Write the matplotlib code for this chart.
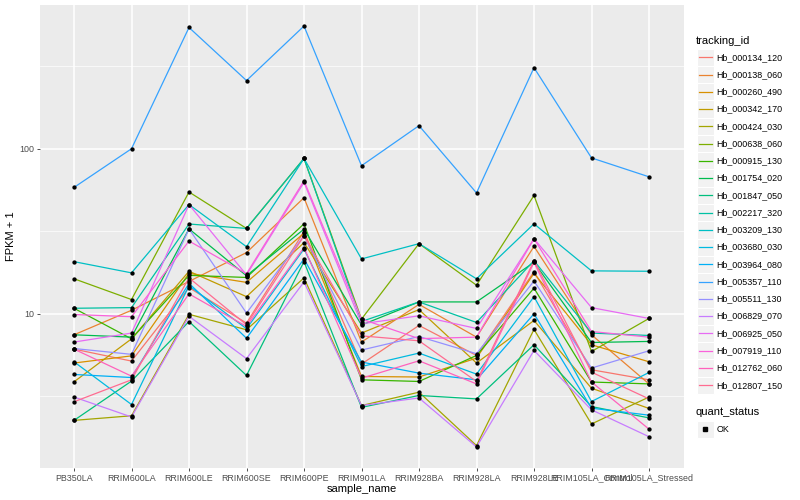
import numpy as np
import matplotlib
matplotlib.use("Agg")
import matplotlib.pyplot as plt
from matplotlib.patches import Rectangle
from matplotlib.ticker import FixedLocator, NullFormatter

plt.rcParams["font.family"] = ["Liberation Sans", "DejaVu Sans"]

SAMPLES = ["PB350LA", "RRIM600LA", "RRIM600LE", "RRIM600SE", "RRIM600PE",
           "RRIM901LA", "RRIM928BA", "RRIM928LA", "RRIM928LE",
           "RRIM105LA_Control", "RRIM105LA_Stressed"]

TRACKING_IDS = ["Hb_000134_120", "Hb_000138_060", "Hb_000260_490", "Hb_000342_170",
                "Hb_000424_030", "Hb_000638_060", "Hb_000915_130", "Hb_001754_020",
                "Hb_001847_050", "Hb_002217_320", "Hb_003209_130", "Hb_003680_030",
                "Hb_003964_080", "Hb_005357_110", "Hb_005511_130", "Hb_006829_070",
                "Hb_006925_050", "Hb_007919_110", "Hb_012762_060", "Hb_012807_150"]

# ggplot default hue palette for 20 levels
COLORS = ["#F8766D", "#EA8331", "#D89000", "#C09B00", "#A3A500", "#7CAE00",
          "#39B600", "#00BB4E", "#00BF7D", "#00C1A3", "#00BFC4", "#00BAE0",
          "#00B0F6", "#35A2FF", "#9590FF", "#C77CFF", "#E76BF3", "#FA62DB",
          "#FF62BC", "#FF6C91"]

# FPKM + 1 per sample
hb_000134_120 = [6.11, 5.17, 14.4, 8.78, 31.5, 4.96, 8.50, 5.59, 18.0, 4.58, 3.98]
hb_000138_060 = [7.46, 10.5, 15.7, 23.5, 50.5, 6.74, 11.4, 7.22, 25.6, 7.46, 3.76]
hb_000260_490 = [5.03, 5.56, 17.6, 15.5, 30.8, 4.17, 4.14, 5.39, 17.6, 6.49, 5.12]
hb_000342_170 = [3.87, 7.05, 18.1, 12.7, 27.0, 7.64, 10.6, 5.03, 9.11, 3.54, 2.67]
hb_000424_030 = [2.26, 2.41, 9.93, 8.00, 16.5, 2.78, 3.35, 1.59, 8.04, 2.15, 3.13]
hb_000638_060 = [16.3, 12.2, 54.7, 32.9, 87.3, 9.29, 26.6, 14.9, 52.1, 5.91, 9.37]
hb_000915_130 = [10.8, 7.05, 17.1, 16.6, 35.1, 3.98, 3.89, 5.59, 14.3, 3.86, 3.76]
hb_001754_020 = [7.46, 7.22, 32.7, 17.0, 32.6, 8.55, 11.8, 11.8, 20.5, 6.70, 6.80]
hb_001847_050 = [2.26, 3.91, 8.98, 4.23, 20.7, 2.71, 3.20, 3.05, 6.49, 2.74, 2.34]
hb_002217_320 = [10.8, 10.9, 35.0, 32.9, 87.3, 8.98, 11.8, 8.86, 21.0, 7.64, 7.39]
hb_003209_130 = [20.7, 17.7, 45.9, 25.5, 87.3, 21.5, 26.6, 16.3, 35.1, 18.2, 18.1]
hb_003680_030 = [5.12, 2.82, 14.8, 8.12, 24.7, 4.79, 5.78, 4.31, 12.7, 2.94, 4.41]
hb_003964_080 = [4.29, 4.11, 15.3, 7.11, 21.5, 5.10, 4.37, 3.98, 10.0, 2.68, 2.43]
hb_005357_110 = [58.3, 100.0, 543.0, 259.0, 554.0, 78.9, 138.0, 54.0, 310.0, 88.0, 67.6]
hb_005511_130 = [6.16, 5.68, 32.7, 10.1, 29.7, 6.03, 7.28, 5.73, 15.8, 4.69, 5.97]
hb_006829_070 = [3.13, 2.37, 9.66, 5.35, 15.6, 2.78, 3.09, 1.56, 6.00, 2.62, 1.80]
hb_006925_050 = [6.74, 7.64, 45.9, 17.2, 62.5, 8.70, 9.72, 8.15, 28.5, 10.9, 9.37]
hb_007919_110 = [9.90, 9.60, 27.6, 17.5, 64.0, 9.29, 7.07, 7.22, 28.5, 7.81, 7.22]
hb_012762_060 = [6.11, 4.19, 13.2, 8.38, 25.2, 4.07, 5.19, 3.76, 20.5, 3.86, 2.00]
hb_012807_150 = [2.93, 3.98, 16.5, 8.58, 29.7, 7.35, 6.86, 3.89, 21.0, 4.43, 3.05]

SERIES = [hb_000134_120, hb_000138_060, hb_000260_490, hb_000342_170, hb_000424_030,
          hb_000638_060, hb_000915_130, hb_001754_020, hb_001847_050, hb_002217_320,
          hb_003209_130, hb_003680_030, hb_003964_080, hb_005357_110, hb_005511_130,
          hb_006829_070, hb_006925_050, hb_007919_110, hb_012762_060, hb_012807_150]

W, H = 800, 500
fig = plt.figure(figsize=(8, 5), dpi=100)
fig.patch.set_facecolor("white")

# panel in pixel terms
px_l, px_r, px_t, px_b = 39.5, 683.5, 5, 468
ax = fig.add_axes([px_l / W, 1 - px_b / H, (px_r - px_l) / W, (px_b - px_t) / H])
ax.set_facecolor("#EBEBEB")
for s in ax.spines.values():
    s.set_visible(False)

x = np.arange(len(SAMPLES))
for vals, col in zip(SERIES, COLORS):
    ax.plot(x, vals, color=col, lw=0.9, zorder=2, solid_capstyle="butt")
for vals in SERIES:
    ax.plot(x, vals, ls="none", marker="o", ms=2.1, color="black", zorder=3)

ax.set_yscale("log")
allv = np.log10(np.concatenate([np.asarray(v) for v in SERIES]))
lo, hi = allv.min(), allv.max()
pad = 0.05 * (hi - lo)
ax.set_ylim(10 ** (lo - pad), 10 ** (hi + pad))
ax.set_xlim(-0.6, len(SAMPLES) - 1 + 0.6)

ax.set_xticks(x)
ax.set_xticklabels(SAMPLES)
ax.yaxis.set_major_locator(FixedLocator([10, 100]))
ax.set_yticklabels(["10", "100"])
ax.yaxis.set_minor_locator(FixedLocator([10 ** 0.5, 10 ** 1.5, 10 ** 2.5]))
ax.yaxis.set_minor_formatter(NullFormatter())

ax.grid(which="major", color="white", lw=1.1)
ax.grid(which="minor", axis="y", color="white", lw=0.5)
ax.set_axisbelow(True)
ax.tick_params(which="major", length=2.5, width=0.6, color="#333333",
               labelcolor="#4D4D4D", labelsize=6.4, pad=1.5)
ax.tick_params(which="minor", length=0)

ax.set_xlabel("sample_name", fontsize=8, color="black", labelpad=1)
ax.set_ylabel("FPKM + 1", fontsize=8, color="black", labelpad=2)

# legend, drawn in pixel coordinates
lax = fig.add_axes([0, 0, 1, 1], facecolor="none")
lax.set_xlim(0, W)
lax.set_ylim(H, 0)
lax.axis("off")

lax.text(696, 40.7, "tracking_id", fontsize=8, va="center", ha="left")
step = 17.26
for i, (name, col) in enumerate(zip(TRACKING_IDS, COLORS)):
    yc = 57.3 + i * step
    lax.add_patch(Rectangle((697, yc - step / 2), 16.5, step, facecolor="#F2F2F2",
                            edgecolor="white", lw=0.8))
    lax.plot([698.5, 711.5], [yc, yc], color=col, lw=0.9)
    lax.text(716.7, yc, name, fontsize=6.4, va="center", ha="left")

lax.text(696, 412.3, "quant_status", fontsize=8, va="center", ha="left")
lax.add_patch(Rectangle((697, 429.3 - step / 2), 16.5, step, facecolor="#F2F2F2",
                        edgecolor="white", lw=0.8))
lax.plot([705.2], [429.3], ls="none", marker="s", ms=2.4, color="black")
lax.text(716.7, 429.3, "OK", fontsize=6.4, va="center", ha="left")

fig.savefig("out.png", dpi=100)
